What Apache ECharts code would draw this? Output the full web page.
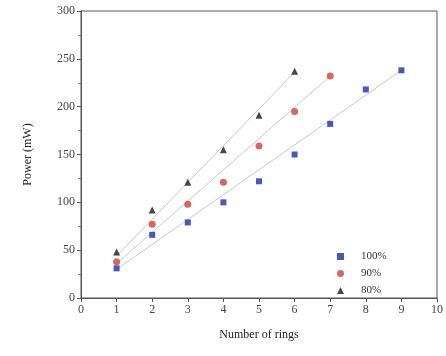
<!DOCTYPE html>
<html><head><meta charset="utf-8">
<script src="https://cdn.jsdelivr.net/npm/echarts@6/dist/echarts.min.js"></script>
<style>html,body{margin:0;padding:0;background:#fff}#c{width:446px;height:356px}</style>
</head><body><div id="c"></div>
<script>
const rings = [1,2,3,4,5,6,7,8,9];
const names = ['100%','90%','80%'];
const p100 = [31,66,79,100,122,150,182,218,238];
const p90 = [38,77,98,121,159,195,232];
const p80 = [48,92,121,155,191,237];
// fitted line end points
const fit100 = [[1,30],[9,238]];
const fit90 = [[1,36],[7,232]];
const fit80 = [[1,44],[6,236]];
const xTicks = [0,1,2,3,4,5,6,7,8,9,10];
const yTicks = [0,50,100,150,200,250,300];

const font = 'Liberation Serif';
const pts = (arr) => arr.map((v,i)=>[rings[i],v]);
const chart = echarts.init(document.getElementById('c'));
chart.setOption({
  animation:false,
  textStyle:{fontFamily:font},
  grid:{left:81,right:8,top:11,bottom:58,show:true,borderColor:'#555',borderWidth:1},
  legend:{
    orient:'vertical', left:332, top:246, itemGap:6, itemWidth:7, itemHeight:7,
    textStyle:{fontFamily:font,fontSize:11,color:'#333',padding:[0,0,0,12]},
    data:names
  },
  xAxis:{
    type:'value', min:0, max:10, interval:1,
    name:'Number of rings', nameLocation:'middle', nameGap:31,
    nameTextStyle:{fontFamily:font,fontSize:12,color:'#222'},
    axisLine:{lineStyle:{color:'#555'}},
    axisTick:{show:true,length:4,lineStyle:{color:'#555'}},
    minorTick:{show:false},
    axisLabel:{fontFamily:font,fontSize:12,color:'#444',margin:6},
    splitLine:{show:false}
  },
  yAxis:{
    type:'value', min:0, max:300, interval:50,
    name:'Power (mW)', nameLocation:'middle', nameGap:47,
    nameTextStyle:{fontFamily:font,fontSize:12,color:'#222'},
    axisLine:{show:true,lineStyle:{color:'#555'}},
    axisTick:{show:true,length:4,lineStyle:{color:'#555'}},
    minorTick:{show:true,splitNumber:2,length:3,lineStyle:{color:'#777'}},
    axisLabel:{fontFamily:font,fontSize:12,color:'#444',margin:6},
    splitLine:{show:false}
  },
  series:[
    {type:'line',data:fit100,symbol:'none',silent:true,lineStyle:{color:'#c8c8c8',width:1},z:1},
    {type:'line',data:fit90,symbol:'none',silent:true,lineStyle:{color:'#c8c8c8',width:1},z:1},
    {type:'line',data:fit80,symbol:'none',silent:true,lineStyle:{color:'#c8c8c8',width:1},z:1},
    {name:names[0],type:'scatter',data:pts(p100),symbol:'rect',symbolSize:6,itemStyle:{color:'#1a2fa8'},z:3},
    {name:names[1],type:'scatter',data:pts(p90),symbol:'circle',symbolSize:7,itemStyle:{color:'#c8443a'},z:3},
    {name:names[2],type:'scatter',data:pts(p80),symbol:'triangle',symbolSize:7,itemStyle:{color:'#1a1a1a'},z:3}
  ]
});
</script></body></html>
